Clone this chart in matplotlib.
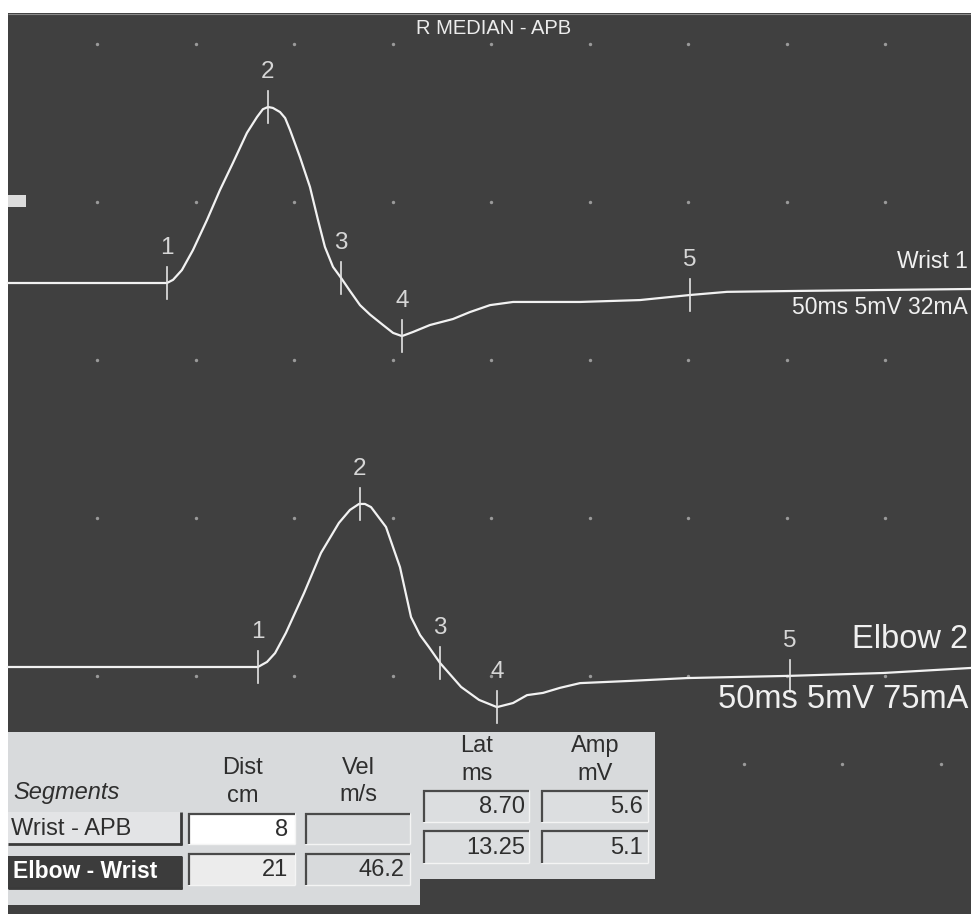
import matplotlib
matplotlib.use("Agg")
import matplotlib.pyplot as plt
from matplotlib.patches import Rectangle
import numpy as np

plt.rcParams['font.family'] = ['Liberation Sans', 'DejaVu Sans']

# ------------------------------------------------------------------ data
TITLE = "R MEDIAN - APB"

# Wrist trace (time in ms, amplitude in mV relative to its baseline)
wrist_t = [0.48, 8.55, 8.86, 9.31, 9.87, 10.58, 11.24, 11.90, 12.61, 13.12, 13.42,
           13.68, 13.93, 14.29, 14.55, 14.80, 15.30, 15.81, 16.22, 16.57, 16.98,
           17.39, 17.84, 18.35, 18.86, 19.52, 20.03, 20.48, 21.04, 21.90, 23.07,
           23.93, 24.95, 26.12, 29.52, 32.56, 35.10, 36.98, 40.69, 49.37]
wrist_mv = [0.0, 0.0, 0.10, 0.41, 1.04, 1.99, 2.94, 3.80, 4.75, 5.25, 5.50,
            5.57, 5.54, 5.41, 5.22, 4.84, 3.99, 3.04, 1.99, 1.14, 0.51,
            0.16, -0.25, -0.70, -1.00, -1.33, -1.58, -1.68, -1.55, -1.33, -1.14,
            -0.92, -0.70, -0.60, -0.60, -0.54, -0.38, -0.28, -0.25, -0.19]

# Elbow trace
elbow_t = [0.48, 13.17, 13.63, 14.04, 14.59, 15.51, 16.37, 17.28, 17.84, 18.30,
           18.60, 18.91, 19.67, 20.38, 20.94, 21.40, 21.85, 22.41, 23.48, 24.39,
           25.30, 26.12, 26.83, 27.64, 28.50, 29.52, 32.06, 34.95, 40.18, 44.90, 49.37]
elbow_mv = [0.0, 0.0, 0.16, 0.44, 1.08, 2.34, 3.61, 4.56, 4.97, 5.16,
            5.16, 5.06, 4.43, 3.16, 1.58, 1.01, 0.63, 0.13, -0.63, -1.04,
            -1.27, -1.14, -0.89, -0.82, -0.66, -0.51, -0.44, -0.35, -0.28, -0.19, -0.03]

marker_labels = ["1", "2", "3", "4", "5"]
wrist_marker_t = [8.55, 13.68, 17.39, 20.48, 35.10]
elbow_marker_t = [13.17, 18.35, 22.41, 25.30, 40.18]

trace_names = ["Wrist 1", "Elbow 2"]
trace_settings = ["50ms 5mV 32mA", "50ms 5mV 75mA"]

grid_t = [5, 10, 15, 20, 25, 30, 35, 40, 45]
grid_mv = [0, 5, 10, 15, 20]
extra_dot_t = [37.84, 42.82, 47.84]
extra_dot_mv = [-2.78, -2.78, -2.78]

seg_header = "Segments"
col_headers = [("Dist", "cm"), ("Vel", "m/s"), ("Lat", "ms"), ("Amp", "mV")]
segments = ["Wrist - APB", "Elbow - Wrist"]
dist_cm = ["8", "21"]
vel_ms = ["", "46.2"]
lat_ms = ["8.70", "13.25"]
amp_mv = ["5.6", "5.1"]

# ------------------------------------------------------------------ layout
W, H, DPI = 971, 914, 100
PX_PER_MS = 19.7
PX_PER_MV = 31.6
X0_PX = -1.5          # pixel position of t = 0
Y0_PX = 676           # pixel row of 0 on the display scale
WRIST_OFFSET = (Y0_PX - 283) / PX_PER_MV
ELBOW_OFFSET = (Y0_PX - 667) / PX_PER_MV

BG = "#404040"
TRACE = "#f2f2f2"
LBL = "#d6d6d6"
PANEL = "#d8dadc"
TXT = "#2e2e2e"

fig = plt.figure(figsize=(W / DPI, H / DPI), dpi=DPI, facecolor="white")
ax = fig.add_axes([0, 0, 1, 1])
ax.set_xlim((0 - X0_PX) / PX_PER_MS, (W - X0_PX) / PX_PER_MS)
ax.set_ylim((Y0_PX - H) / PX_PER_MV, Y0_PX / PX_PER_MV)
ax.axis("off")
ax.patch.set_alpha(0)


def fx(x):
    return x / W


def fy(y):
    return 1 - y / H


def rect(x0, y0, x1, y1, z=10, **kw):
    ax.add_patch(Rectangle((fx(x0), fy(y1)), (x1 - x0) / W, (y1 - y0) / H,
                           transform=fig.transFigure, zorder=z, **kw))


def seg(xs, ys, z=11, **kw):
    ax.plot([fx(v) for v in xs], [fy(v) for v in ys], transform=fig.transFigure,
            zorder=z, solid_capstyle="butt", **kw)


def ftext(x, y, s, z=20, **kw):
    ax.text(fx(x), fy(y), s, transform=fig.transFigure, zorder=z, **kw)


# dark display panel
rect(8, 13, W, H, z=0, facecolor=BG, edgecolor="none")
seg([8, W], [13.5, 13.5], z=1, color="#8a8a8a", lw=0.8)
# small marker block on the left edge
rect(8, 195, 26, 207, z=1, facecolor="#dcdcdc", edgecolor="none")

# dotted grid
gx, gy = np.meshgrid(grid_t, grid_mv)
ax.scatter(gx.ravel(), gy.ravel(), s=6, color="#9a9a9a", zorder=2, linewidths=0)
ax.scatter(extra_dot_t, extra_dot_mv, s=6, color="#9a9a9a", zorder=2, linewidths=0)

# title
ftext(494, 29, TITLE, z=5, color="#ececec", fontsize=14.5, ha="center", va="center")

# traces and markers
TICK_HALF = 16 / PX_PER_MV
for t, mv, off, mk in [(wrist_t, wrist_mv, WRIST_OFFSET, wrist_marker_t),
                       (elbow_t, elbow_mv, ELBOW_OFFSET, elbow_marker_t)]:
    y = np.array(mv) + off
    ax.plot(t, y, color=TRACE, lw=1.6, zorder=4, solid_joinstyle="round",
            antialiased=True)
    my = np.interp(mk, t, y)
    for lab, xm, ym in zip(marker_labels, mk, my):
        ax.plot([xm, xm], [ym - TICK_HALF, ym + TICK_HALF], color="#e4e4e4", lw=1.2, zorder=4)
        ax.annotate(lab, (xm, ym), xytext=(0, 25), textcoords="offset points",
                    ha="center", va="center", fontsize=17.5, color=LBL, zorder=5)

# trace labels on the right
ftext(968, 262, trace_names[0], z=5, color="#f0f0f0", fontsize=16.5, ha="right", va="center")
ftext(968, 308, trace_settings[0], z=5, color="#f0f0f0", fontsize=16.5, ha="right", va="center")
ftext(968, 640, trace_names[1], z=5, color="#f0f0f0", fontsize=23.5, ha="right", va="center")
ftext(968, 700, trace_settings[1], z=5, color="#f0f0f0", fontsize=23.5, ha="right", va="center")

# ------------------------------------------------------------------ table
rect(8, 732, 420, 905, facecolor=PANEL, edgecolor="none")
rect(420, 732, 655, 879, facecolor=PANEL, edgecolor="none")

FS = 17
ftext(13, 792, seg_header, color=TXT, fontsize=FS, style="italic", ha="left", va="center")
hdr_pos = [(243, 768, 796), (358, 768, 795), (477, 746, 774), (595, 746, 774)]
for (a, b), (cx, y1, y2) in zip(col_headers, hdr_pos):
    ftext(cx, y1, a, color=TXT, fontsize=FS, ha="center", va="center")
    ftext(cx, y2, b, color=TXT, fontsize=FS, ha="center", va="center")


def sunken(x0, y0, x1, y1, fill):
    rect(x0, y0, x1, y1, facecolor=fill, edgecolor="none")
    seg([x1, x1], [y0, y1], color="#f4f4f4", lw=1)
    seg([x0, x1], [y1, y1], color="#f4f4f4", lw=1)
    seg([x0, x1], [y0 + 1, y0 + 1], color="#4a4a4a", lw=1.6)
    seg([x0 + 1, x0 + 1], [y0, y1], color="#4a4a4a", lw=1.6)


def button(x0, y0, x1, y1, fill):
    rect(x0, y0, x1, y1, facecolor=fill, edgecolor="none")
    seg([x0, x1], [y1 - 1, y1 - 1], color="#3a3a3a", lw=2)
    seg([x1 - 1, x1 - 1], [y0, y1], color="#3a3a3a", lw=2)


# segment buttons
button(8, 812, 182, 845, "#e3e4e6")
ftext(11, 829, segments[0], color=TXT, fontsize=FS, ha="left", va="center")
button(8, 856, 182, 889, "#3c3c3c")
ftext(13, 872, segments[1], color="white", fontsize=16.5, weight="bold", ha="left", va="center")

# value boxes
rows_left = [(813, 844), (853, 885)]
for i, (y0, y1) in enumerate(rows_left):
    sunken(188, y0, 295, y1, "white" if i == 0 else "#ececec")
    ftext(288, (y0 + y1) / 2 + 1, dist_cm[i], color=TXT, fontsize=FS, ha="right", va="center")
    sunken(305, y0, 410, y1, PANEL)
    ftext(404, (y0 + y1) / 2 + 1, vel_ms[i], color=TXT, fontsize=FS, ha="right", va="center")

rows_right = [(790, 822), (830, 863)]
for i, (y0, y1) in enumerate(rows_right):
    sunken(423, y0, 529, y1, "#dcdee0")
    ftext(525, (y0 + y1) / 2 + 1, lat_ms[i], color=TXT, fontsize=FS, ha="right", va="center")
    sunken(541, y0, 648, y1, "#dcdee0")
    ftext(643, (y0 + y1) / 2 + 1, amp_mv[i], color=TXT, fontsize=FS, ha="right", va="center")

fig.savefig("out.png", dpi=DPI, facecolor="white")
